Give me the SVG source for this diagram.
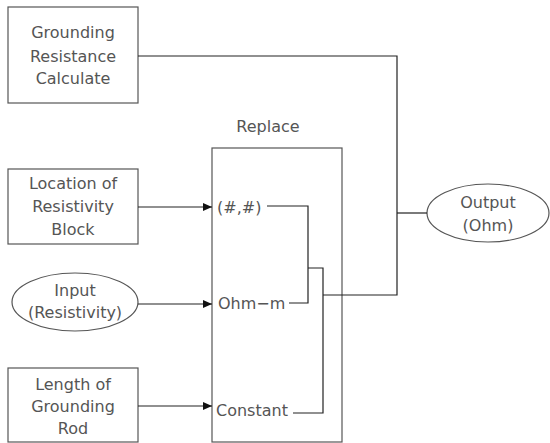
<svg xmlns="http://www.w3.org/2000/svg" width="550" height="443" viewBox="0 0 550 443">
<style>
text{font-family:"DejaVu Sans",sans-serif;font-size:16px;fill:#555;text-anchor:middle}
.n{fill:#fff;stroke:#555;stroke-width:1.2}
.c{fill:none;stroke:#222;stroke-width:1.2}
.s{text-anchor:start}
</style>
<defs>
<marker id="a" markerWidth="9" markerHeight="8" refX="9" refY="4" orient="auto" markerUnits="userSpaceOnUse">
<path d="M0,0 L9,4 L0,8 Z" fill="#111"/>
</marker>
</defs>
<rect width="550" height="443" fill="#fff"/>
<g id="replace">
<rect class="n" x="212" y="148" width="130" height="294"/>
<text x="268" y="132">Replace</text>
<text class="s" x="217" y="213">(#,#)</text>
<text class="s" x="218" y="309">Ohm−m</text>
<text class="s" x="216" y="416">Constant</text>
</g>
<g id="calc">
<rect class="n" x="8" y="7" width="130" height="96"/>
<text x="73" y="38">Grounding</text>
<text x="73" y="62">Resistance</text>
<text x="73" y="84">Calculate</text>
</g>
<g id="location">
<rect class="n" x="8" y="169" width="130" height="75"/>
<text x="73" y="189">Location of</text>
<text x="73" y="212">Resistivity</text>
<text x="73" y="235">Block</text>
</g>
<g id="input">
<ellipse class="n" cx="75" cy="302" rx="63" ry="29"/>
<text x="75" y="296">Input</text>
<text x="75" y="318">(Resistivity)</text>
</g>
<g id="length">
<rect class="n" x="8" y="368" width="130" height="74"/>
<text x="73" y="390">Length of</text>
<text x="73" y="412">Grounding</text>
<text x="73" y="434">Rod</text>
</g>
<g id="output">
<ellipse class="n" cx="488" cy="213" rx="61" ry="29"/>
<text x="488" y="208">Output</text>
<text x="488" y="231">(Ohm)</text>
</g>
<g id="connectors">
<line class="c" x1="138" y1="207" x2="212" y2="207" marker-end="url(#a)"/>
<line class="c" x1="138" y1="304" x2="212" y2="304" marker-end="url(#a)"/>
<line class="c" x1="138" y1="406" x2="212" y2="406" marker-end="url(#a)"/>
<path class="c" d="M267,206 H308 V303 H289"/>
<path class="c" d="M308,268 H323 V413 H293"/>
<path class="c" d="M323,295 H397 V56 H138"/>
<line class="c" x1="397" y1="213" x2="427" y2="213"/>
</g>
</svg>
